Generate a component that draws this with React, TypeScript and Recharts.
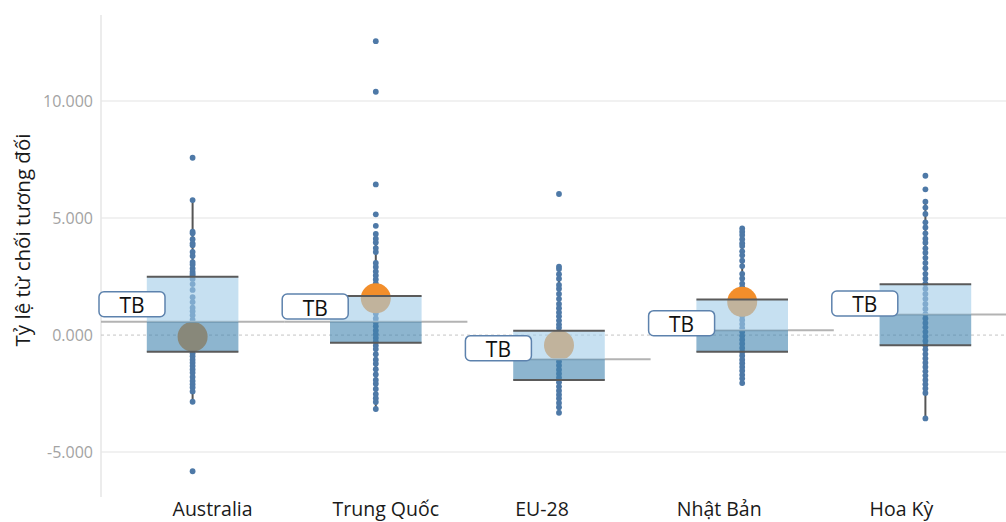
import React from 'react'
import {
  ComposedChart,
  Scatter,
  XAxis,
  YAxis,
  CartesianGrid,
  ReferenceLine,
  ReferenceArea,
  ReferenceDot,
  Label,
} from 'recharts'

const categories = ['Australia', 'Trung Quốc', 'EU-28', 'Nhật Bản', 'Hoa Kỳ']
const q1 = [-0.71, -0.33, -1.92, -0.71, -0.43]
const median = [0.57, 0.57, -1.03, 0.21, 0.88]
const q3 = [2.49, 1.67, 0.18, 1.52, 2.17]
const whiskerLow = [-2.85, -3.16, -3.32, -2.05, -3.56]
const whiskerHigh = [5.77, 4.32, 2.92, 4.56, 5.7]
const means: (number | null)[] = [-0.07, 1.57, -0.43, 1.42, null]
const tbLabelAt = [1.32, 1.22, -0.56, 0.51, 1.35]
const yTicks = [-5, 0, 5, 10]

const ausDots = [7.58, 5.77, 4.42, 4.35, 4.1, 3.92, 3.84, 3.55, 3.38, 3.12, 3.02, 2.85, 2.71, 2.62, 2.55, 2.4, 2.18, 1.93, 1.62, 1.41, 1.17, 1.02, 0.85, 0.66, 0.48, 0.31, 0.12, -0.05, -0.18, -0.33, -0.47, -0.62, -0.78, -0.9, -1.05, -1.18, -1.32, -1.47, -1.61, -1.79, -1.96, -2.1, -2.24, -2.41, -2.85, -5.82]
const chinaDots = [12.56, 10.4, 6.44, 5.16, 4.67, 4.32, 4.12, 3.96, 3.72, 3.55, 3.08, 2.91, 2.72, 2.55, 2.38, 2.21, 1.98, 1.75, 1.52, 1.33, 1.1, 0.92, 0.71, 0.55, 0.38, 0.2, 0.04, -0.12, -0.28, -0.45, -0.6, -0.82, -1.05, -1.22, -1.46, -1.68, -1.92, -2.08, -2.3, -2.52, -2.7, -2.86, -3.16]
const euDots = [6.03, 2.92, 2.82, 2.6, 2.41, 2.14, 1.98, 1.76, 1.55, 1.33, 1.15, 0.97, 0.8, 0.62, 0.45, 0.31, 0.12, -0.05, -0.22, -0.4, -0.58, -0.77, -0.96, -1.13, -1.3, -1.48, -1.65, -1.82, -2.02, -2.2, -2.38, -2.55, -2.71, -2.9, -3.08, -3.32]
const japanDots = [4.56, 4.42, 4.28, 4.1, 3.93, 3.81, 3.58, 3.41, 3.18, 2.95, 2.62, 2.42, 2.2, 2.05, 1.84, 1.66, 1.45, 1.24, 1.02, 0.83, 0.65, 0.47, 0.3, 0.14, -0.03, -0.2, -0.37, -0.55, -0.72, -0.88, -1.05, -1.2, -1.36, -1.52, -1.7, -1.86, -2.05]
const usDots = [6.81, 6.23, 5.7, 5.45, 5.18, 4.82, 4.6, 4.35, 4.12, 3.95, 3.71, 3.52, 3.3, 3.08, 2.86, 2.62, 2.41, 2.2, 1.98, 1.76, 1.55, 1.33, 1.12, 0.9, 0.71, 0.52, 0.33, 0.14, -0.06, -0.25, -0.44, -0.62, -0.81, -1.0, -1.18, -1.36, -1.55, -1.73, -1.92, -2.1, -2.28, -2.47, -3.56]

const dotLists = [ausDots, chinaDots, euDots, japanDots, usDots]
const dotPoints = dotLists.flatMap((list, i) => list.map((v) => ({ x: i, y: v })))
const meanPoints = means
  .map((m, i) => (m == null ? null : { x: i, y: m }))
  .filter((p): p is { x: number; y: number } => p !== null)

// x labels in the source sit a little off the category centres
const TICK_NUDGE = [20, 10, -17, -23, -24]
const FONT = '"Open Sans", "Noto Sans", sans-serif'
const HALF = 0.25

const CatTick = (props: any) => {
  const { x, y, payload } = props
  const i = payload.value as number
  return (
    <text x={x + TICK_NUDGE[i]} y={y} dy={11} textAnchor="middle" fontFamily={FONT} fontSize={19.5} fill="#1a1a1a">
      {categories[i]}
    </text>
  )
}

const TbLabel = (props: any) => {
  const { cx, cy } = props
  return (
    <g>
      <rect x={cx - 2} y={cy - 12.5} width={66} height={25} rx={5} fill="#fff" stroke="#5d82ad" strokeWidth={1.5} />
      <text x={cx + 31} y={cy + 1} textAnchor="middle" dominantBaseline="central" fontFamily={FONT} fontSize={21} fill="#111">
        TB
      </text>
    </g>
  )
}

export default function App() {
  return (
    <div style={{ position: 'fixed', left: 0, top: 0, width: 1006, height: 522, overflow: 'hidden', background: '#fff' }}>
      <ComposedChart width={1030} height={522} margin={{ top: 15, right: 13, bottom: 0, left: 0 }}>
        <CartesianGrid vertical={false} horizontalValues={[-5, 5, 10]} stroke="#ececec" strokeWidth={1.5} />
        <XAxis
          dataKey="x"
          type="number"
          domain={[-0.5, 4.5]}
          ticks={[0, 1, 2, 3, 4]}
          allowDataOverflow
          axisLine={false}
          tickLine={false}
          tick={<CatTick />}
          height={25}
          interval={0}
        />
        <YAxis
          dataKey="y"
          type="number"
          domain={[-6.92, 13.68]}
          ticks={yTicks}
          allowDataOverflow
          width={101}
          axisLine={{ stroke: '#e6e6e6', strokeWidth: 1.5 }}
          tickLine={false}
          tickFormatter={(v: number) => v.toFixed(3)}
          tick={{ fontSize: 16, fill: '#a3a3a3', fontFamily: FONT }}
        >
          <Label
            content={(p: any) => {
              const vb = p.viewBox || { y: 15, height: 482 }
              const cx = 22
              const cy = vb.y + vb.height / 2 - 16
              return (
                <text x={cx} y={cy} transform={`rotate(-90 ${cx} ${cy})`} textAnchor="middle" dominantBaseline="central" fontFamily={FONT} fontSize={20.5} fill="#1a1a1a">
                  Tỷ lệ từ chối tương đối
                </text>
              )
            }}
          />
        </YAxis>
        <ReferenceLine y={0} stroke="#c4c4c4" strokeDasharray="3 3" zIndex={605} />

        {categories.map((c, i) => (
          <ReferenceLine key={`wl-${c}`} segment={[{ x: i, y: whiskerLow[i] }, { x: i, y: q1[i] }]} stroke="#555" strokeWidth={2} ifOverflow="visible" zIndex={610} />
        ))}
        {categories.map((c, i) => (
          <ReferenceLine key={`wh-${c}`} segment={[{ x: i, y: q3[i] }, { x: i, y: whiskerHigh[i] }]} stroke="#555" strokeWidth={2} ifOverflow="visible" zIndex={610} />
        ))}

        <Scatter
          data={dotPoints}
          isAnimationActive={false}
          zIndex={620}
          shape={(p: any) => <circle cx={p.cx} cy={p.cy} r={2.9} fill="#4e79a7" />}
        />
        <Scatter
          data={meanPoints}
          isAnimationActive={false}
          zIndex={630}
          shape={(p: any) => <circle cx={p.cx} cy={p.cy} r={15} fill="#f28e2b" />}
        />

        {categories.map((c, i) => (
          <ReferenceLine key={`md-${c}`} segment={[{ x: i - 0.5, y: median[i] }, { x: i + 0.5, y: median[i] }]} stroke="#b3b3b3" strokeWidth={2} ifOverflow="visible" zIndex={640} />
        ))}

        {categories.map((c, i) => (
          <ReferenceArea key={`bu-${c}`} x1={i - HALF} x2={i + HALF} y1={median[i]} y2={q3[i]} fill="#a0cbe8" fillOpacity={0.6} strokeWidth={0} ifOverflow="visible" zIndex={650} />
        ))}
        {categories.map((c, i) => (
          <ReferenceArea key={`bl-${c}`} x1={i - HALF} x2={i + HALF} y1={q1[i]} y2={median[i]} fill="#4184af" fillOpacity={0.6} strokeWidth={0} ifOverflow="visible" zIndex={650} />
        ))}

        {categories.map((c, i) => (
          <ReferenceLine key={`e3-${c}`} segment={[{ x: i - HALF, y: q3[i] }, { x: i + HALF, y: q3[i] }]} stroke="#5a5a5a" strokeWidth={2} ifOverflow="visible" zIndex={660} />
        ))}
        {categories.map((c, i) => (
          <ReferenceLine key={`e1-${c}`} segment={[{ x: i - HALF, y: q1[i] }, { x: i + HALF, y: q1[i] }]} stroke="#5a5a5a" strokeWidth={2} ifOverflow="visible" zIndex={660} />
        ))}

        {categories.map((c, i) => (
          <ReferenceDot key={`tb-${c}`} x={i - 0.5} y={tbLabelAt[i]} r={0} ifOverflow="visible" zIndex={670} shape={<TbLabel />} />
        ))}
      </ComposedChart>
    </div>
  )
}
